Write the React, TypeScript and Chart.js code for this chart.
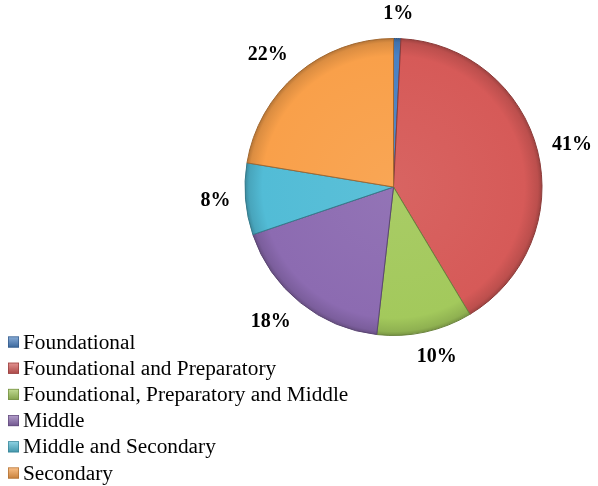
import React, { useEffect, useRef } from "react";
import { Chart, registerables } from "chart.js";

Chart.register(...registerables);

const categories = [
  "Foundational",
  "Foundational and Preparatory",
  "Foundational, Preparatory and Middle",
  "Middle",
  "Middle and Secondary",
  "Secondary",
];
const shares = [0.8, 40.6, 10.4, 18, 7.8, 22.4];
const percentLabels = ["1%", "41%", "10%", "18%", "8%", "22%"];
const baseColors = ["#4A81C3", "#D65A58", "#A3C95C", "#8C6BB1", "#52BCD6", "#F9A04A"];

function mix(hex: string, target: number, t: number) {
  const n = parseInt(hex.slice(1), 16);
  const r = (n >> 16) & 255, g = (n >> 8) & 255, b = n & 255;
  const f = (c: number) => Math.round(c + (target - c) * t);
  return `rgb(${f(r)},${f(g)},${f(b)})`;
}

const SERIF = "'Liberation Serif', serif";

const labelPlugin = {
  id: "outsideLabels",
  afterDatasetsDraw(chart: any) {
    const ctx = chart.ctx;
    const meta = chart.getDatasetMeta(0);
    ctx.save();
    ctx.font = `bold 20px ${SERIF}`;
    ctx.fillStyle = "#000";
    ctx.textAlign = "center";
    ctx.textBaseline = "middle";
    meta.data.forEach((arc: any, i: number) => {
      const { x, y, startAngle, endAngle, outerRadius } = arc.getProps(
        ["x", "y", "startAngle", "endAngle", "outerRadius"],
        true
      );
      const mid = (startAngle + endAngle) / 2;
      const cx = Math.cos(mid), sy = Math.sin(mid);
      const text = percentLabels[i];
      const w = ctx.measureText(text).width;
      const h = 20;
      const d = outerRadius + 15;
      const clamp = (v: number) => Math.max(-1, Math.min(1, v));
      const px = x + cx * d + (w / 2) * clamp(cx * 2);
      const py = y + sy * d + (h / 2) * sy;
      ctx.fillText(text, px, py);
    });
    ctx.restore();
  },
};

const legendPlugin = {
  id: "customLegend",
  afterDraw(chart: any) {
    const ctx = chart.ctx;
    ctx.save();
    ctx.font = `21.3px ${SERIF}`;
    ctx.textAlign = "left";
    ctx.textBaseline = "middle";
    categories.forEach((name, i) => {
      const cy = 342 + i * 26.2;
      const bx = 8, by = cy - 5.5, s = 11;
      const g = ctx.createLinearGradient(bx, by, bx, by + s);
      g.addColorStop(0, mix(baseColors[i], 255, 0.35));
      g.addColorStop(1, mix(baseColors[i], 0, 0.2));
      ctx.fillStyle = g;
      ctx.fillRect(bx, by, s, s);
      ctx.strokeStyle = mix(baseColors[i], 0, 0.3);
      ctx.lineWidth = 0.7;
      ctx.strokeRect(bx + 0.35, by + 0.35, s - 0.7, s - 0.7);
      ctx.fillStyle = "#000";
      ctx.fillText(name, 23, cy + 1);
    });
    ctx.restore();
  },
};

export default function App() {
  const ref = useRef<HTMLCanvasElement>(null);
  useEffect(() => {
    if (!ref.current) return;
    let alive = true;
    const chart = new Chart(ref.current, {
      type: "pie",
      data: {
        labels: categories,
        datasets: [
          {
            data: shares,
            backgroundColor: (c: any) => {
              const i = c.dataIndex;
              const base = baseColors[i];
              const ch = c.chart;
              const area = ch.chartArea;
              if (!area) return base;
              const cx = (area.left + area.right) / 2;
              const cy = (area.top + area.bottom) / 2;
              const r = Math.min(area.right - area.left, area.bottom - area.top) / 2;
              const g = ch.ctx.createRadialGradient(cx, cy, 0, cx, cy, r);
              g.addColorStop(0, mix(base, 255, 0.06));
              g.addColorStop(0.88, base);
              g.addColorStop(0.97, mix(base, 0, 0.12));
              g.addColorStop(1, mix(base, 0, 0.28));
              return g;
            },
            borderColor: baseColors.map((c) => mix(c, 0, 0.35)),
            borderWidth: 1,
          },
        ],
      },
      options: {
        responsive: false,
        animation: false,
        events: [],
        layout: { padding: { left: 244, right: 55, top: 38, bottom: 150 } },
        plugins: {
          legend: { display: false },
          tooltip: { enabled: false },
        },
      },
      plugins: [labelPlugin, legendPlugin],
    });
    Promise.all([
      document.fonts.load(`21px 'Liberation Serif'`),
      document.fonts.load(`bold 20px 'Liberation Serif'`),
    ])
      .catch(() => null)
      .then(() => {
        if (alive) chart.update();
      });
    return () => {
      alive = false;
      chart.destroy();
    };
  }, []);
  return (
    <div style={{ position: "absolute", left: 0, top: 0, width: 598, height: 486, background: "#fff" }}>
      <span style={{ fontFamily: "'Liberation Serif'", position: "absolute", left: -1000, top: 0 }}>
        Aa<b>Aa</b>
      </span>
      <canvas ref={ref} width={598} height={486} />
    </div>
  );
}
